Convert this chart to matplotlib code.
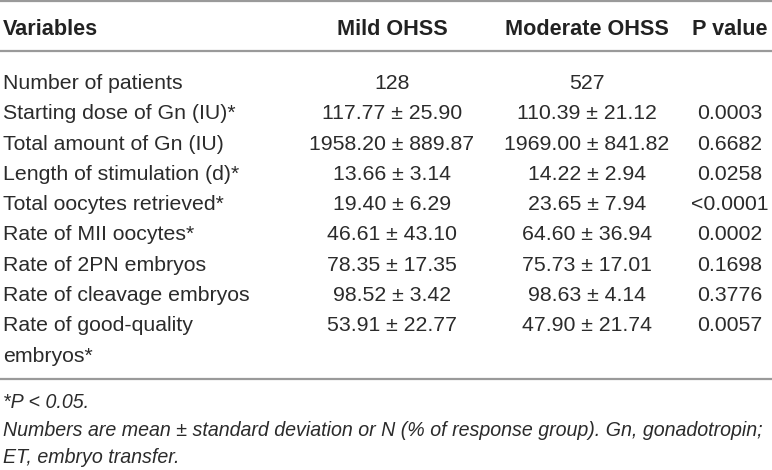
import matplotlib.pyplot as plt

plt.rcParams['font.family'] = ['Liberation Sans', 'DejaVu Sans']

headers = ['Variables', 'Mild OHSS', 'Moderate OHSS', 'P value']
variables = ['Number of patients', 'Starting dose of Gn (IU)*', 'Total amount of Gn (IU)',
             'Length of stimulation (d)*', 'Total oocytes retrieved*', 'Rate of MII oocytes*',
             'Rate of 2PN embryos', 'Rate of cleavage embryos', 'Rate of good-quality\nembryos*']
mild = ['128', '117.77 \u00b1 25.90', '1958.20 \u00b1 889.87', '13.66 \u00b1 3.14', '19.40 \u00b1 6.29',
        '46.61 \u00b1 43.10', '78.35 \u00b1 17.35', '98.52 \u00b1 3.42', '53.91 \u00b1 22.77']
moderate = ['527', '110.39 \u00b1 21.12', '1969.00 \u00b1 841.82', '14.22 \u00b1 2.94', '23.65 \u00b1 7.94',
            '64.60 \u00b1 36.94', '75.73 \u00b1 17.01', '98.63 \u00b1 4.14', '47.90 \u00b1 21.74']
p_values = ['', '0.0003', '0.6682', '0.0258', '<0.0001', '0.0002', '0.1698', '0.3776', '0.0057']
footnotes = ['*P < 0.05.',
             'Numbers are mean \u00b1 standard deviation or N (% of response group). Gn, gonadotropin;',
             'ET, embryo transfer.']

W, H = 772, 470
fig = plt.figure(figsize=(W / 100, H / 100), dpi=100)
ax = fig.add_axes([0, 0, 1, 1])
ax.set_xlim(0, W)
ax.set_ylim(H, 0)
ax.axis('off')

fs = 15.3
col_x = [3, 392, 587, 730]
txt = '#2b2b2b'
line_c = '#9a9a9a'

# rules
for y in (1, 51, 379):
    ax.plot([0, W], [y, y], color=line_c, lw=1.6, solid_capstyle='butt')

# header
ax.text(col_x[0], 35, headers[0], fontsize=15.6, fontweight='bold', color='#222222', ha='left', va='baseline')
for x, h in zip(col_x[1:], headers[1:]):
    ax.text(x, 35, h, fontsize=15.6, fontweight='bold', color='#222222', ha='center', va='baseline')

# body rows
y0, dy = 89, 30.3
for i in range(len(variables)):
    y = y0 + i * dy
    lines = variables[i].split('\n')
    for k, ln in enumerate(lines):
        ax.text(col_x[0], y + k * dy, ln, fontsize=fs, color=txt, ha='left', va='baseline')
    ax.text(col_x[1], y, mild[i], fontsize=fs, color=txt, ha='center', va='baseline')
    ax.text(col_x[2], y, moderate[i], fontsize=fs, color=txt, ha='center', va='baseline')
    ax.text(col_x[3], y, p_values[i], fontsize=fs, color=txt, ha='center', va='baseline')

# footnotes
for k, f in enumerate(footnotes):
    ax.text(3, 408 + k * 27.6, f, fontsize=14.1, style='italic', color=txt, ha='left', va='baseline')

fig.savefig('out.png', dpi=100)
